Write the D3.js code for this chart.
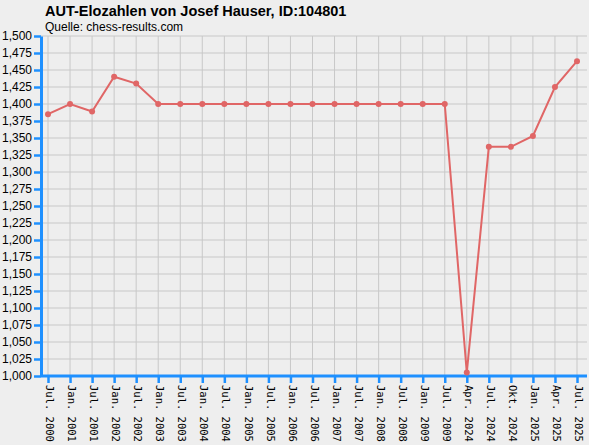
<!DOCTYPE html><html><head><meta charset="utf-8"><script src="https://cdn.jsdelivr.net/npm/d3@7"></script>
<style>body{margin:0;background:#eeeeee}svg{display:block;font-family:"Liberation Sans",Arial,sans-serif}</style></head><body><svg id="c" width="589" height="445"></svg><script>
const categories=["Jul. 2000","Jan. 2001","Jul. 2001","Jan. 2002","Jul. 2002","Jan. 2003","Jul. 2003","Jan. 2004","Jul. 2004","Jan. 2005","Jul. 2005","Jan. 2006","Jul. 2006","Jan. 2007","Jul. 2007","Jan. 2008","Jul. 2008","Jan. 2009","Jul. 2009","Apr. 2024","Jul. 2024","Okt. 2024","Jan. 2025","Apr. 2025","Jul. 2025"];
const values=[1385,1400,1389,1440,1430,1400,1400,1400,1400,1400,1400,1400,1400,1400,1400,1400,1400,1400,1400,1005,1337,1337,1353,1425,1463];
const yTicks=d3.range(1000,1501,25);
const svg=d3.select("#c");
svg.append("rect").attr("width",589).attr("height",445).attr("fill","#eeeeee");
const L=41,R=587,T=36,B=376;
const x=d3.scalePoint().domain(categories).range([48,577]);
const y=d3.scaleLinear().domain([1000,1500]).range([B,T]);
const g=svg.append("g");
yTicks.forEach(t=>g.append("line").attr("x1",L).attr("x2",R).attr("y1",y(t)).attr("y2",y(t)).attr("stroke","#c8c8c8"));
categories.forEach(c=>g.append("line").attr("x1",x(c)).attr("x2",x(c)).attr("y1",T).attr("y2",B).attr("stroke","#c8c8c8"));
const ya=svg.append("g").attr("transform",`translate(${L},0)`).call(d3.axisLeft(y).tickValues(yTicks).tickSize(7).tickSizeOuter(0).tickPadding(2));
ya.selectAll("line").attr("stroke","#1e90ff").attr("stroke-width",2.5);
ya.select(".domain").attr("stroke","#1e90ff").attr("stroke-width",3);
ya.selectAll("text").attr("font-size",12).attr("fill","#000").attr("font-family","Liberation Sans, Arial");
const xa=svg.append("g").attr("transform",`translate(0,${B})`).call(d3.axisBottom(x).tickSize(7).tickSizeOuter(0));
xa.selectAll("line").attr("stroke","#1e90ff").attr("stroke-width",2.5);
xa.select(".domain").attr("stroke","#1e90ff").attr("stroke-width",3).attr("d",`M${L},0H${R}`);
xa.selectAll("text").attr("font-size",10.5).attr("fill","#000").attr("font-family","DejaVu Sans Mono, monospace")
 .attr("transform","rotate(90)").attr("text-anchor","start").attr("x",9).attr("y",-1).attr("dy","0.32em");
const line=d3.line().x((d,i)=>x(categories[i])).y(d=>y(d));
svg.append("path").datum(values).attr("d",line).attr("fill","none").attr("stroke","#e06666").attr("stroke-width",2);
svg.selectAll("circle.p").data(values).join("circle").attr("cx",(d,i)=>x(categories[i])).attr("cy",d=>y(d)).attr("r",3).attr("fill","#e06666");
svg.append("text").attr("x",45).attr("y",16).attr("font-size",14.5).attr("font-weight","bold").text("AUT-Elozahlen von Josef Hauser, ID:104801");
svg.append("text").attr("x",45).attr("y",31).attr("font-size",12).text("Quelle: chess-results.com");
</script></body></html>
